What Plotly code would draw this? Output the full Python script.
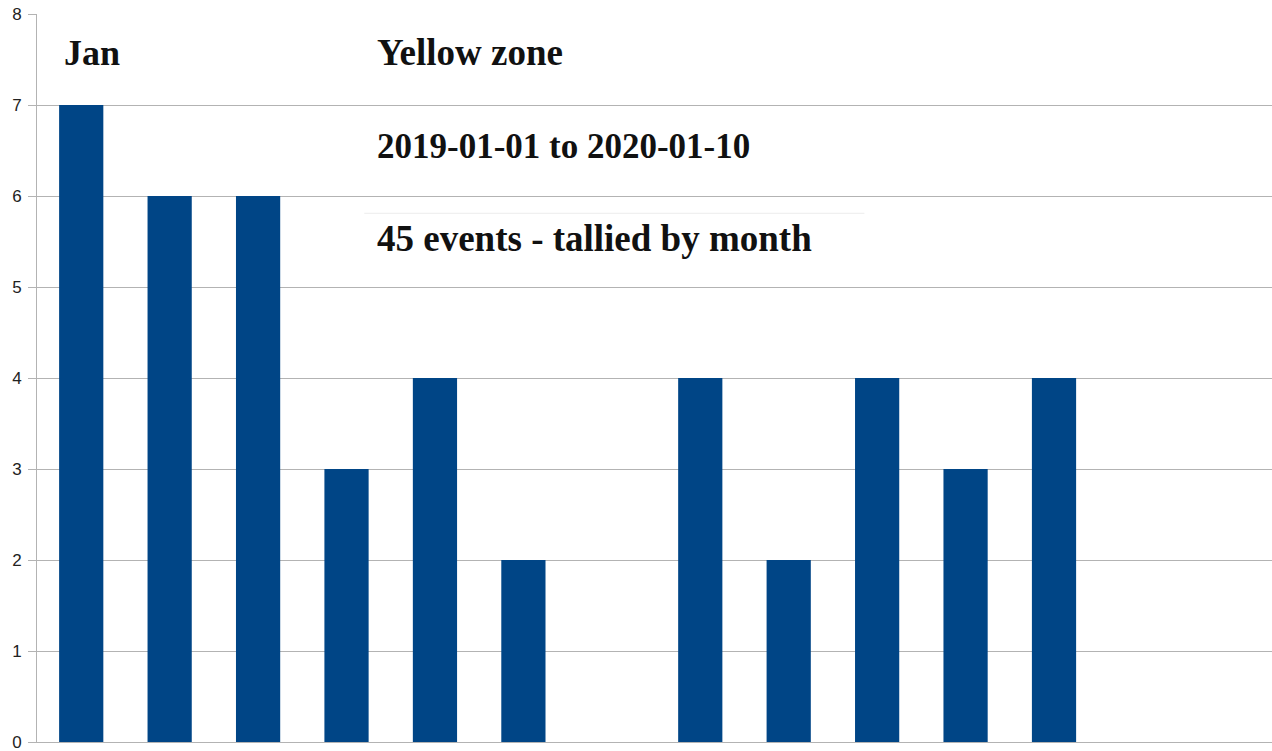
import plotly.graph_objects as go

months = ["Jan", "Feb", "Mar", "Apr", "May", "Jun", "Jul",
          "Aug", "Sep", "Oct", "Nov", "Dec", "Jan 2020", "Feb 2020"]
events = [7, 6, 6, 3, 4, 2, 0, 4, 2, 4, 3, 4, 0, 0]
y_ticks = list(range(0, 9))

title_lines = ["Yellow zone", "2019-01-01 to 2020-01-10", "45 events - tallied by month"]

fig = go.Figure()

fig.add_trace(go.Bar(
    x=months,
    y=events,
    marker=dict(color="#004586", line=dict(width=0)),
    width=0.5,
    showlegend=False,
))


def serif(size):
    return dict(family="Liberation Serif, Times New Roman, serif", size=size, color="#111111")


# text boxes placed over the chart
fig.add_annotation(text="<b>Jan</b>", xref="paper", yref="y", x=0.020, y=7.57,
                   xanchor="left", yanchor="middle", showarrow=False, font=serif(36))
for txt, yv, sz in zip(title_lines, [7.58, 6.54, 5.53], [37, 35, 37]):
    fig.add_annotation(text=f"<b>{txt}</b>", xref="paper", yref="y", x=0.274, y=yv,
                       xanchor="left", yanchor="middle", showarrow=False, font=serif(sz))

# faint leftover border line of the text box
fig.add_shape(type="line", xref="paper", yref="y", x0=0.265, x1=0.67, y0=5.81, y1=5.81,
              line=dict(color="#ececec", width=1))

fig.update_layout(
    width=1272,
    height=751,
    margin=dict(l=37, r=0, t=14, b=9),
    paper_bgcolor="white",
    plot_bgcolor="white",
    bargap=0.5,
    xaxis=dict(
        range=[-0.5, 13.465],
        showticklabels=False,
        ticks="",
        showgrid=False,
        showline=True,
        linecolor="#b3b3b3",
        linewidth=1,
        zeroline=False,
    ),
    yaxis=dict(
        range=[0, 8],
        tickvals=y_ticks,
        ticks="outside",
        ticklen=8,
        tickcolor="#b3b3b3",
        ticklabelstandoff=3,
        ticklabeloverflow="allow",
        showgrid=True,
        gridcolor="#b3b3b3",
        gridwidth=1,
        showline=True,
        linecolor="#b3b3b3",
        linewidth=1,
        zeroline=False,
        automargin=False,
        tickfont=dict(family="Liberation Sans, Arial, sans-serif", size=17, color="#222222"),
    ),
)

fig.write_html("out.html", config={"displayModeBar": False},
               post_script="document.body.style.margin='0';")
